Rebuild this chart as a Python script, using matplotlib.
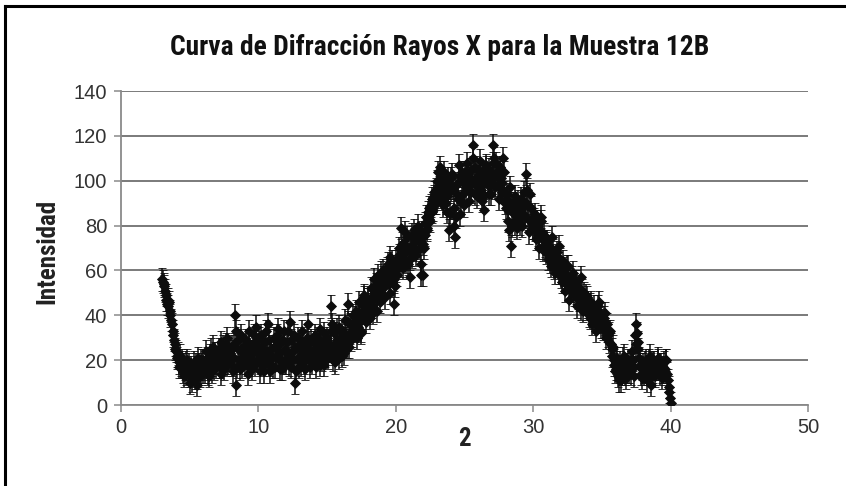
import numpy as np
import matplotlib
matplotlib.use("Agg")
import matplotlib.pyplot as plt
from matplotlib import font_manager as fm
from matplotlib.lines import Line2D

# 2-theta scan from 3.00 to 40.00 degrees, 0.05 degree step
two_theta_start = 3.0
two_theta_step = 0.05

intensity = [
    56, 55, 53, 54, 51, 49, 47, 45, 44, 47, 46, 42, 40, 38, 36, 33, 31, 29, 27, 25,          # 3
    24, 22, 21, 23, 19, 17, 22, 18, 17, 20, 15, 13, 18, 16, 14, 19, 20, 15, 16, 18,          # 4
    13, 10, 17, 14, 11, 15, 19, 12, 15, 18, 12, 9, 21, 17, 16, 13, 14, 20, 18, 15,           # 5
    20, 16, 15, 19, 24, 21, 17, 14, 13, 18, 22, 25, 18, 15, 26, 21, 16, 23, 21, 17,          # 6
    19, 23, 25, 20, 17, 14, 28, 22, 21, 26, 16, 19, 23, 27, 30, 18, 19, 22, 24, 20,          # 7
    22, 26, 18, 15, 27, 21, 40, 33, 9, 17, 25, 29, 20, 16, 31, 24, 17, 21, 26, 22,           # 8
    23, 19, 29, 25, 18, 14, 33, 27, 21, 24, 16, 20, 27, 31, 24, 18, 35, 28, 20, 23,          # 9
    26, 30, 19, 15, 31, 25, 22, 18, 15, 21, 28, 33, 24, 20, 36, 29, 18, 15, 25, 22,          # 10
    21, 17, 30, 26, 17, 22, 26, 31, 34, 27, 20, 16, 23, 28, 16, 20, 29, 33, 25, 19,          # 11
    19, 23, 28, 33, 22, 18, 37, 29, 17, 21, 24, 20, 31, 26, 10, 15, 26, 30, 20, 17,          # 12
    27, 22, 18, 24, 33, 28, 23, 19, 16, 21, 25, 30, 36, 28, 21, 17, 29, 24, 19, 23,          # 13
    24, 28, 31, 22, 17, 21, 26, 30, 22, 18, 34, 27, 20, 24, 28, 32, 18, 22, 25, 29,          # 14
    30, 24, 21, 26, 27, 33, 44, 36, 23, 20, 32, 27, 19, 24, 29, 34, 25, 21, 35, 30,          # 15
    27, 22, 33, 28, 23, 29, 38, 31, 30, 26, 45, 37, 26, 32, 36, 29, 31, 35, 40, 33,          # 16
    34, 39, 42, 36, 30, 35, 46, 41, 38, 32, 33, 39, 44, 48, 49, 42, 37, 41, 43, 47,          # 17
    47, 43, 39, 45, 52, 48, 44, 41, 56, 51, 48, 54, 42, 47, 58, 53, 50, 46, 55, 59,          # 18
    52, 57, 60, 55, 48, 53, 57, 61, 63, 58, 54, 50, 66, 61, 58, 64, 62, 56, 45, 53,          # 19
    64, 60, 58, 65, 70, 67, 66, 62, 79, 72, 61, 68, 72, 77, 68, 64, 75, 70, 63, 69,          # 20
    57, 65, 71, 76, 66, 70, 78, 74, 73, 67, 69, 75, 80, 76, 74, 70, 63, 58, 77, 72,          # 21
    58, 70, 76, 81, 84, 78, 79, 86, 88, 83, 82, 89, 92, 86, 87, 93, 95, 90, 90, 96,          # 22
    100, 104, 93, 97, 106, 101, 97, 92, 89, 95, 104, 99, 95, 90, 86, 93, 101, 97, 78, 85,    # 23
    96, 101, 103, 97, 88, 80, 75, 84, 98, 94, 92, 99, 107, 102, 85, 91, 100, 104, 94, 89,    # 24
    104, 99, 97, 102, 108, 103, 91, 96, 101, 105, 95, 99, 116, 110, 99, 94, 106, 101, 93, 98,  # 25
    102, 97, 109, 104, 96, 91, 104, 100, 87, 93, 100, 106, 107, 102, 98, 94, 105, 100, 94, 99,  # 26
    101, 108, 116, 110, 97, 102, 108, 104, 103, 98, 92, 97, 106, 101, 99, 95, 110, 104, 95, 90,  # 27
    88, 92, 94, 87, 82, 78, 97, 90, 71, 80, 90, 86, 85, 81, 93, 88, 79, 84, 91, 86,          # 28
    86, 81, 92, 88, 80, 85, 95, 89, 84, 90, 103, 96, 89, 83, 77, 82, 94, 88, 83, 79,         # 29
    79, 83, 85, 78, 74, 80, 82, 76, 70, 75, 78, 82, 84, 77, 69, 73, 76, 71, 72, 68,          # 30
    73, 69, 65, 71, 70, 64, 62, 67, 75, 69, 66, 61, 59, 64, 68, 62, 63, 59, 71, 65,          # 31
    60, 57, 55, 61, 64, 58, 51, 55, 58, 62, 62, 55, 47, 52, 56, 51, 53, 57, 59, 54,          # 32
    49, 53, 55, 50, 44, 48, 52, 47, 47, 43, 57, 51, 42, 46, 50, 46, 45, 49, 48, 44,          # 33
    43, 40, 39, 45, 46, 41, 36, 40, 44, 39, 41, 37, 33, 38, 40, 44, 46, 41, 37, 35,          # 34
    38, 35, 34, 39, 41, 36, 30, 33, 36, 31, 28, 32, 33, 27, 22, 25, 26, 20, 18, 15,          # 35
    16, 19, 21, 17, 13, 11, 19, 15, 11, 14, 17, 21, 22, 18, 14, 12, 18, 15, 20, 17,          # 36
    15, 18, 19, 14, 24, 20, 13, 17, 31, 27, 36, 32, 28, 25, 21, 18, 17, 14, 12, 16,          # 37
    18, 15, 14, 19, 20, 16, 11, 14, 16, 20, 22, 18, 9, 13, 15, 19, 19, 16, 13, 17,           # 38
    17, 20, 21, 16, 14, 18, 18, 15, 12, 17, 19, 15, 16, 20, 20, 14, 11, 8, 6, 3,             # 39
    1,                                                                                      # 40
]
error_half = 5.0

x_ticks = [0, 10, 20, 30, 40, 50]
y_ticks = [0, 20, 40, 60, 80, 100, 120, 140]

title = "Curva de Difracción Rayos X para la Muestra 12B"
x_label = "2"
y_label = "Intensidad"

two_theta = two_theta_start + two_theta_step * np.arange(len(intensity))

plt.rcParams["font.family"] = ["Liberation Sans", "DejaVu Sans"]


def narrow_bold_font():
    """Pick a condensed bold sans face if one is installed."""
    preferred = ["Liberation Sans Narrow", "Arial Narrow", "DejaVu Sans Condensed",
                 "Roboto Condensed", "Open Sans Condensed"]
    fonts = fm.fontManager.ttflist
    for name in preferred:
        for f in fonts:
            if f.name == name and f.weight in ("bold", 700, "heavy"):
                return fm.FontProperties(fname=f.fname)
    for f in fonts:
        if str(f.stretch) in ("condensed", "semi-condensed") and f.weight in ("bold", 700):
            return fm.FontProperties(fname=f.fname)
    return None


narrow = narrow_bold_font()

fig = plt.figure(figsize=(8.46, 4.86), dpi=100)
fig.patch.set_facecolor("white")
ax = fig.add_axes([121 / 846, 1 - 405 / 486, (808 - 121) / 846, (405 - 91) / 486])

ax.errorbar(two_theta, intensity, yerr=error_half, fmt="D", color="#0d0d0d",
            ms=5.4, mew=0.6, elinewidth=1.1, capsize=2.8, capthick=1.1, zorder=3)

ax.set_xlim(0, 50)
ax.set_ylim(0, 140)
ax.set_xticks(x_ticks)
ax.set_yticks(y_ticks)
ax.grid(axis="y", color="#7a7a7a", linewidth=1.4, zorder=0)
ax.set_axisbelow(True)

for side in ("top", "right"):
    ax.spines[side].set_visible(False)
for side in ("left", "bottom"):
    ax.spines[side].set_color("#8a8a8a")
    ax.spines[side].set_linewidth(1.3)

ax.tick_params(axis="both", direction="out", length=5, width=1.1, color="#8a8a8a",
               labelsize=14.5, labelcolor="#333333")
ax.tick_params(axis="y", pad=5)
ax.tick_params(axis="x", pad=4)

label_kw = dict(fontsize=15, fontweight="bold", color="#222222")
if narrow is not None:
    label_kw = dict(fontproperties=narrow.copy(), color="#222222")
    label_kw["fontproperties"].set_size(18)
ax.set_xlabel(x_label, **label_kw)
ax.set_ylabel(y_label, **label_kw)
ax.xaxis.set_label_coords(0.5, -0.07)
ax.yaxis.set_label_coords(-0.09, 0.49)

if narrow is not None:
    tprops = narrow.copy()
    tprops.set_size(19.8)
    fig.text(0.52, 1 - 47 / 486, title, ha="center", va="center",
             fontproperties=tprops, color="#111111")
else:
    fig.text(0.52, 1 - 47 / 486, title, ha="center", va="center", fontsize=17,
             fontweight="bold", color="#111111")

# outer frame: left and top edges
fig.add_artist(Line2D([5 / 846, 5 / 846], [0, 1 - 6 / 486], transform=fig.transFigure,
                      color="black", linewidth=2.2))
fig.add_artist(Line2D([5 / 846, 1], [1 - 6 / 486, 1 - 6 / 486], transform=fig.transFigure,
                      color="black", linewidth=2.2))

fig.savefig("out.png", dpi=100, facecolor="white")
